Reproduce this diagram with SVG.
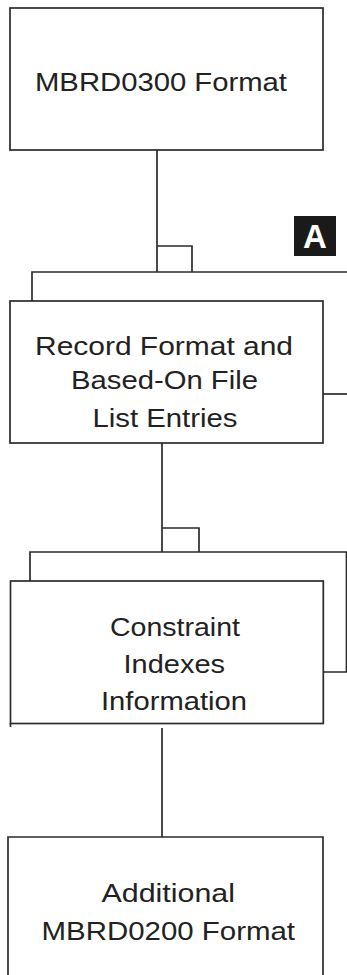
<svg xmlns="http://www.w3.org/2000/svg" width="347" height="975" viewBox="0 0 347 975">
<style>
.box{fill:#fff;stroke:#2b2b2b;stroke-width:1.7}
.ln{fill:none;stroke:#2b2b2b;stroke-width:1.7}
.t{font-family:"Liberation Sans",Arial,sans-serif;font-size:26px;fill:#222}
.tag{font-family:"Liberation Sans",Arial,sans-serif;font-size:33px;font-weight:bold;fill:#fff}
</style>
<rect width="347" height="975" fill="#fff"/>
<g id="connectors">
<path class="ln" d="M157 150V272M157 246H192V272M32 301V272H347"/>
<path class="ln" d="M323 394H347"/>
<path class="ln" d="M162 443V552M162 528H199V552M30 581V552H346.5V672H323"/>
<path class="ln" d="M162 728V837"/>
</g>
<g id="node-mbrd0300">
<rect class="box" x="10" y="8" width="313" height="142"/>
<text class="t" x="35" y="90.5" textLength="252" lengthAdjust="spacingAndGlyphs">MBRD0300 Format</text>
</g>
<g id="tag-a">
<rect x="294" y="216" width="42" height="40" fill="#1a1a1a"/>
<text class="tag" x="315" y="248" text-anchor="middle">A</text>
</g>
<g id="node-record-format">
<rect class="box" x="10" y="301" width="313" height="142"/>
<text class="t" x="35" y="355" textLength="258" lengthAdjust="spacingAndGlyphs">Record Format and</text>
<text class="t" x="71" y="389" textLength="187" lengthAdjust="spacingAndGlyphs">Based-On File</text>
<text class="t" x="92.5" y="426.5" textLength="145" lengthAdjust="spacingAndGlyphs">List Entries</text>
</g>
<g id="node-constraint">
<rect class="box" x="10.5" y="581" width="312.8" height="142.5"/>
<path class="ln" d="M10.5 723V727"/>
<text class="t" x="110" y="636" textLength="130" lengthAdjust="spacingAndGlyphs">Constraint</text>
<text class="t" x="123.5" y="672.5" textLength="101.5" lengthAdjust="spacingAndGlyphs">Indexes</text>
<text class="t" x="101" y="710" textLength="146" lengthAdjust="spacingAndGlyphs">Information</text>
</g>
<g id="node-mbrd0200">
<path class="box" d="M8 976V837H323V976"/>
<text class="t" x="101.5" y="901.5" textLength="133.5" lengthAdjust="spacingAndGlyphs">Additional</text>
<text class="t" x="41.5" y="940" textLength="253.5" lengthAdjust="spacingAndGlyphs">MBRD0200 Format</text>
</g>
</svg>
